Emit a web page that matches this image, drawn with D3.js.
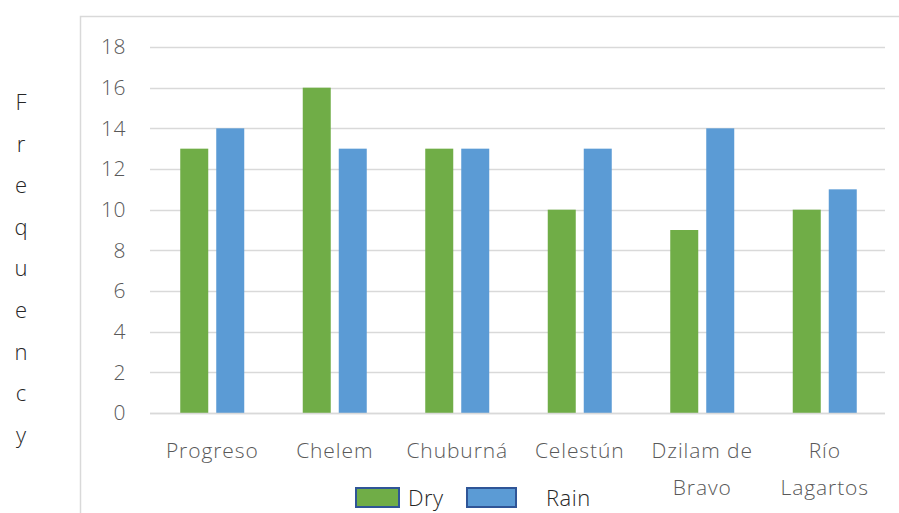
<!DOCTYPE html>
<html>
<head>
<meta charset="utf-8">
<script src="https://cdn.jsdelivr.net/npm/d3@7"></script>
<style>
  body { margin: 0; background: #fff; }
  text { font-family: "Open Sans", sans-serif; font-weight: 300; fill: #595959; }
</style>
</head>
<body>
<div id="chart"></div>
<script>
const width = 899;
const height = 513;

const sites = [["Progreso"], ["Chelem"], ["Chuburná"], ["Celestún"], ["Dzilam de", "Bravo"], ["Río", "Lagartos"]];
const dry = [13, 16, 13, 10, 9, 10];
const rain = [14, 13, 13, 13, 14, 11];
const yTicks = [0, 2, 4, 6, 8, 10, 12, 14, 16, 18];
const seriesNames = ["Dry", "Rain"];
const colors = ["#70AD47", "#5B9BD5"];

const svg = d3.select("#chart")
  .append("svg")
  .attr("width", width)
  .attr("height", height);

// chart frame (only left and top edges visible)
svg.append("path")
  .attr("d", "M80.5,513 V16.5 H899")
  .attr("fill", "none")
  .attr("stroke", "#d9d9d9")
  .attr("stroke-width", 1.5);

const x = d3.scaleBand()
  .domain(d3.range(sites.length))
  .range([151, 886]);

const y = d3.scaleLinear()
  .domain([0, 18])
  .range([413, 47]);

// gridlines
svg.append("g")
  .selectAll("line")
  .data(yTicks)
  .enter().append("line")
  .attr("x1", 150)
  .attr("x2", 885)
  .attr("y1", d => Math.round(y(d)) + 0.5)
  .attr("y2", d => Math.round(y(d)) + 0.5)
  .attr("stroke", "#d9d9d9")
  .attr("stroke-width", 1.5);

// y tick labels
svg.append("g")
  .selectAll("text")
  .data(yTicks)
  .enter().append("text")
  .attr("x", 126)
  .attr("y", d => y(d))
  .attr("dy", "0.35em")
  .attr("text-anchor", "end")
  .attr("font-size", 21)
  .attr("letter-spacing", 0.5)
  .text(d => d);

// bars
const barW = 28;
const gap = 8;
const series = [dry, rain];
series.forEach((vals, si) => {
  svg.append("g")
    .selectAll("rect")
    .data(vals)
    .enter().append("rect")
    .attr("x", (d, i) => x(i) + x.bandwidth() / 2 + (si === 0 ? -gap / 2 - barW : gap / 2))
    .attr("y", d => y(d))
    .attr("width", barW)
    .attr("height", d => y(0) - y(d))
    .attr("fill", colors[si]);
});

// redraw baseline above bars
svg.append("line")
  .attr("x1", 150).attr("x2", 885)
  .attr("y1", Math.round(y(0)) + 0.5).attr("y2", Math.round(y(0)) + 0.5)
  .attr("stroke", "#d9d9d9")
  .attr("stroke-width", 1.5);

// category labels
const cat = svg.append("g")
  .selectAll("text")
  .data(sites)
  .enter().append("text")
  .attr("x", (d, i) => x(i) + x.bandwidth() / 2)
  .attr("y", 458)
  .attr("text-anchor", "middle")
  .attr("font-size", 21)
  .attr("letter-spacing", 0.9);
cat.selectAll("tspan")
  .data(d => d)
  .enter().append("tspan")
  .attr("x", function () { return this.parentNode.getAttribute("x"); })
  .attr("dy", (d, i) => i === 0 ? 0 : 37)
  .text(d => d);

// vertical axis title, one letter per line
svg.append("g")
  .selectAll("text")
  .data("Frequency".split(""))
  .enter().append("text")
  .attr("x", 21)
  .attr("y", (d, i) => 110 + i * 41.6)
  .attr("text-anchor", "middle")
  .attr("font-size", 22)
  .style("fill", "#262626")
  .text(d => d);

// legend
const legendItems = [
  { name: seriesNames[0], color: colors[0], bx: 356, bw: 43, tx: 408 },
  { name: seriesNames[1], color: colors[1], bx: 467, bw: 49, tx: 546 }
];
const legend = svg.append("g");
legend.selectAll("rect")
  .data(legendItems)
  .enter().append("rect")
  .attr("x", d => d.bx)
  .attr("y", 488)
  .attr("width", d => d.bw)
  .attr("height", 19)
  .attr("fill", d => d.color)
  .attr("stroke", "#2F5597")
  .attr("stroke-width", 2);
legend.selectAll("text")
  .data(legendItems)
  .enter().append("text")
  .attr("x", d => d.tx)
  .attr("y", 498)
  .attr("dy", "0.35em")
  .attr("font-size", 22)
  .attr("letter-spacing", 0.5)
  .style("fill", "#262626")
  .text(d => d.name);
</script>
</body>
</html>
